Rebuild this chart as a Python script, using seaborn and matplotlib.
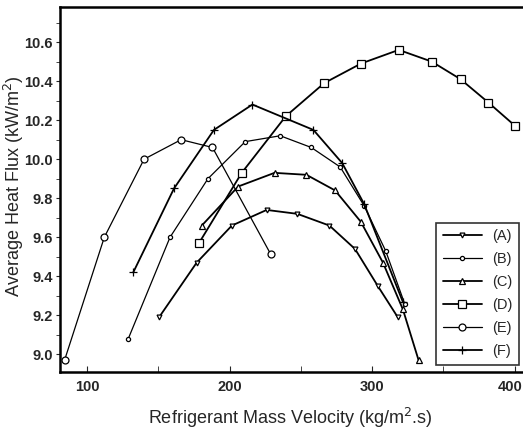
import matplotlib
matplotlib.use("Agg")
import matplotlib.pyplot as plt
import matplotlib.transforms as mtransforms
import seaborn as sns
import pandas as pd
from matplotlib.ticker import MultipleLocator

sns.set_style("ticks")
plt.rcParams['font.family'] = ['Liberation Sans', 'DejaVu Sans']

labels = ["(A)", "(B)", "(C)", "(D)", "(E)", "(F)"]

a_x = [150.5, 176.9, 201.6, 226.0, 247.5, 270.0, 288.0, 304.0, 318.0]
a_y = [9.19, 9.47, 9.66, 9.74, 9.72, 9.66, 9.54, 9.35, 9.19]

b_x = [128.9, 158.2, 184.8, 211.0, 235.5, 257.3, 277.6, 294.5, 309.5, 322.8]
b_y = [9.08, 9.60, 9.90, 10.09, 10.12, 10.06, 9.96, 9.76, 9.53, 9.26]

c_x = [180.5, 206.0, 231.5, 253.9, 274.0, 292.0, 307.6, 321.6, 332.6]
c_y = [9.66, 9.86, 9.93, 9.92, 9.84, 9.68, 9.47, 9.23, 8.97]

d_x = [178.5, 208.5, 239.4, 266.4, 292.2, 318.7, 341.8, 362.0, 381.6, 400.4]
d_y = [9.57, 9.93, 10.22, 10.39, 10.49, 10.56, 10.50, 10.41, 10.29, 10.17]

e_x = [84.2, 112.1, 140.0, 166.0, 188.0, 228.7]
e_y = [8.97, 9.60, 10.00, 10.10, 10.06, 9.515]

f_x = [132.4, 161.0, 189.0, 216.0, 258.8, 279.0, 294.4, 321.5]
f_y = [9.42, 9.85, 10.15, 10.28, 10.15, 9.98, 9.77, 9.27]

series = [(a_x, a_y), (b_x, b_y), (c_x, c_y), (d_x, d_y), (e_x, e_y), (f_x, f_y)]
markers = ["v", "o", "^", "s", "o", "+"]
msizes = [3.5, 3, 4.5, 5.5, 5, 6]
lws = [1.3, 0.9, 1.3, 1.3, 0.9, 1.3]

xticks = [100, 200, 300, 400]
xtick_labels = ["100", "200", "300", "400"]
yticks = [9.0, 9.2, 9.4, 9.6, 9.8, 10.0, 10.2, 10.4, 10.6]
ytick_labels = ["9.0", "9.2", "9.4", "9.6", "9.8", "10.0", "10.2", "10.4", "10.6"]

fig = plt.figure(figsize=(5.23, 4.34), dpi=100)
ax = fig.add_axes([0.1147, 0.143, 0.883, 0.841])

for (xs, ys), lab, mk, ms, lw in zip(series, labels, markers, msizes, lws):
    df = pd.DataFrame({"x": xs, "y": ys})
    sns.lineplot(data=df, x="x", y="y", ax=ax, sort=False, color="black",
                 marker=mk, markersize=ms, linewidth=lw, label=lab,
                 markerfacecolor="white", markeredgecolor="black",
                 markeredgewidth=0.9)

ax.set_xlim(81, 405)
ax.set_ylim(8.91, 10.78)
ax.xaxis.set_minor_locator(MultipleLocator(50))
ax.yaxis.set_minor_locator(MultipleLocator(0.1))
ax.set_xticks(xticks)
ax.set_xticklabels(xtick_labels)
ax.set_yticks(yticks)
ax.set_yticklabels(ytick_labels)
ax.tick_params(axis="x", which="both", direction="in", labelsize=10.5, length=4, pad=6)
ax.tick_params(axis="y", which="both", direction="out", labelsize=10.5, length=3, pad=2)
tick_font = ['Liberation Sans Narrow', 'Liberation Sans', 'DejaVu Sans']
for t in ax.get_xticklabels() + ax.get_yticklabels():
    t.set_family(tick_font)
    t.set_fontweight("bold")
last = ax.get_xticklabels()[-1]
last.set_transform(last.get_transform() +
                   mtransforms.ScaledTranslation(-3 / 72, 0, fig.dpi_scale_trans))

for s in ["left", "bottom", "top"]:
    ax.spines[s].set_linewidth(1.8)
    ax.spines[s].set_color("black")
ax.spines["right"].set_visible(False)

ax.set_xlabel("Refrigerant Mass Velocity (kg/m$^2$.s)", fontsize=13)
ax.set_ylabel("Average Heat Flux (kW/m$^2$)", fontsize=13)
ax.xaxis.set_label_coords(0.499, -0.126)
ax.yaxis.set_label_coords(-0.1, 0.51)
ax.xaxis.label.set_va("center")
ax.yaxis.label.set_va("center")

leg = ax.legend(loc="lower right", bbox_to_anchor=(0.994, 0.019),
                frameon=True, fancybox=False, edgecolor="black",
                fontsize=10.5, handlelength=2.7, labelspacing=0.62,
                borderpad=0.45, handletextpad=0.7, borderaxespad=0)
leg.get_frame().set_linewidth(1.2)

fig.savefig("out.png", dpi=100)
